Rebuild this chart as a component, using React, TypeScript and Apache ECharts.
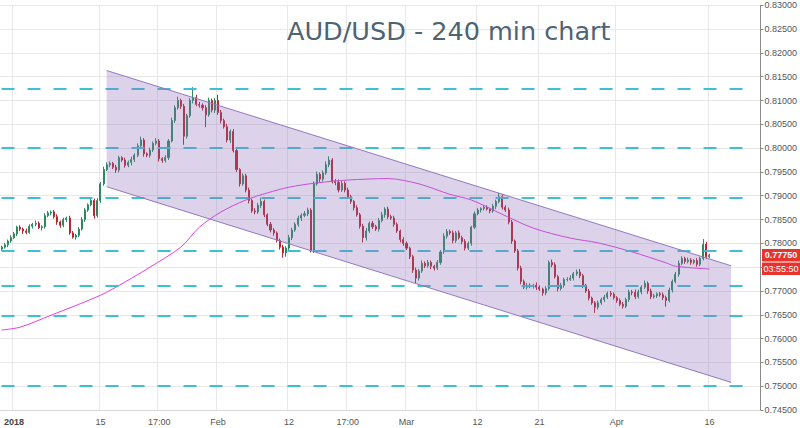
import React, { useEffect, useRef } from "react";
import * as echarts from "echarts";

// ---- data (prices in pips: 7790 = 0.7790) ----
const FIRST_OPEN = 7788;
const CLOSE_PIPS = [
  7792, 7797, 7805, 7812, 7820, 7834, 7830, 7826, 7823, 7836,
  7840, 7842, 7833, 7835, 7858, 7864, 7866, 7856, 7845, 7838,
  7850, 7853, 7822, 7813, 7817, 7830, 7850, 7870, 7881, 7890,
  7858, 7890, 7925, 7955, 7965, 7968, 7960, 7954, 7980, 7975,
  7964, 7970, 7976, 7985, 8005, 8017, 7988, 7985, 7996, 8010,
  8015, 7978, 7974, 7980, 8015, 8058, 8085, 8100, 8088, 8025,
  8068, 8100, 8106, 8092, 8090, 8085, 8070, 8100, 8080, 8100,
  8075, 8058, 8045, 8017, 8035, 7995, 7955, 7925, 7942, 7912,
  7890, 7868, 7866, 7880, 7888, 7860, 7840, 7828, 7822, 7806,
  7792, 7780, 7790, 7812, 7828, 7840, 7853, 7859, 7862, 7870,
  7785, 7925, 7945, 7935, 7948, 7965, 7975, 7930, 7928, 7912,
  7926, 7912, 7898, 7888, 7875, 7860, 7836, 7812, 7826, 7842,
  7835, 7830, 7848, 7860, 7872, 7856, 7853, 7840, 7826, 7808,
  7800, 7790, 7772, 7744, 7727, 7742, 7758, 7753, 7760, 7752,
  7748, 7760, 7782, 7815, 7825, 7822, 7806, 7822, 7812, 7804,
  7790, 7800, 7834, 7862, 7870, 7873, 7876, 7872, 7868, 7878,
  7888, 7898, 7876, 7870, 7845, 7805, 7784, 7748, 7720, 7708,
  7712, 7710, 7712, 7708, 7704, 7696, 7705, 7760, 7755, 7730,
  7705, 7712, 7724, 7724, 7727, 7736, 7740, 7732, 7712, 7700,
  7685, 7675, 7666, 7675, 7682, 7687, 7695, 7693, 7686, 7680,
  7672, 7668, 7682, 7698, 7697, 7688, 7698, 7708, 7716, 7700,
  7688, 7690, 7694, 7692, 7686, 7680, 7702, 7720, 7735, 7758,
  7768, 7762, 7765, 7760, 7764, 7756, 7768, 7798, 7772, 7775,
];
const UPPER_WICK = [
  3, 4, 3, 5, 4, 3, 4, 3, 5, 4,
  3, 6, 4, 3, 5, 4, 3, 4, 5, 3,
  4, 3, 5, 4, 3, 4, 5, 4, 3, 6,
  4, 5, 4, 6, 5, 4, 3, 5, 4, 3,
  5, 4, 6, 4, 5, 7, 4, 3, 5, 4,
  6, 4, 3, 5, 4, 6, 5, 8, 4, 5,
  4, 5, 22, 6, 5, 4, 5, 6, 4, 5,
  12, 5, 4, 6, 4, 5, 4, 3, 5, 4,
  5, 4, 6, 5, 8, 4, 3, 5, 4, 3,
  4, 5, 4, 6, 5, 4, 5, 4, 6, 5,
  4, 5, 6, 4, 5, 7, 8, 4, 5, 6,
  5, 4, 5, 4, 3, 5, 4, 5, 6, 4,
  5, 4, 5, 6, 4, 5, 4, 5, 4, 3,
  5, 4, 3, 4, 5, 4, 6, 4, 5, 4,
  3, 5, 4, 6, 5, 4, 5, 4, 5, 4,
  5, 4, 3, 5, 4, 3, 5, 4, 3, 5,
  4, 8, 5, 4, 5, 4, 3, 4, 5, 4,
  5, 4, 3, 6, 4, 3, 5, 4, 6, 5,
  4, 5, 4, 5, 6, 4, 5, 6, 4, 3,
  4, 3, 4, 5, 4, 5, 4, 5, 4, 3,
  4, 5, 4, 5, 4, 6, 5, 4, 6, 4,
  5, 4, 3, 4, 5, 4, 5, 4, 5, 6,
  5, 4, 5, 4, 3, 5, 4, 11, 5, 3,
];
const LOWER_WICK = [
  4, 3, 5, 4, 3, 5, 4, 6, 4, 3,
  5, 4, 3, 6, 4, 3, 5, 4, 6, 5,
  4, 5, 4, 3, 5, 4, 3, 5, 4, 3,
  6, 4, 5, 4, 3, 5, 4, 6, 5, 4,
  5, 4, 6, 5, 4, 5, 6, 4, 5, 4,
  4, 6, 5, 4, 5, 3, 5, 4, 6, 18,
  5, 4, 6, 4, 5, 6, 26, 4, 5, 6,
  5, 6, 4, 5, 6, 4, 5, 6, 4, 5,
  6, 4, 5, 4, 6, 5, 4, 5, 6, 4,
  5, 10, 8, 4, 5, 4, 5, 6, 4, 5,
  4, 5, 4, 6, 5, 4, 5, 4, 6, 5,
  4, 5, 4, 5, 6, 4, 5, 10, 6, 4,
  5, 4, 5, 4, 6, 5, 4, 5, 4, 6,
  5, 4, 5, 6, 10, 5, 4, 5, 4, 6,
  5, 4, 5, 4, 5, 4, 6, 5, 4, 6,
  5, 4, 5, 4, 3, 5, 4, 3, 5, 4,
  6, 4, 5, 4, 5, 6, 4, 5, 6, 4,
  5, 4, 5, 6, 4, 6, 5, 4, 5, 4,
  6, 4, 5, 4, 3, 5, 4, 5, 6, 4,
  5, 4, 12, 5, 4, 5, 4, 5, 4, 5,
  4, 5, 4, 5, 6, 5, 4, 5, 4, 6,
  5, 4, 5, 4, 5, 13, 4, 5, 4, 5,
  4, 5, 4, 5, 4, 5, 4, 4, 5, 3,
];

const CATEGORY_COUNT = 246;
const X_LABEL_INDEX = [4, 32, 51, 70, 93, 112, 131, 154, 174, 199, 229];
const X_LABELS = ["2018", "15", "17:00", "Feb", "12", "17:00", "Mar", "12", "21", "Apr", "16"];

const Y_MIN = 0.745;
const Y_MAX = 0.83;
const Y_STEP = 0.005;
// tick label hidden behind the price / countdown boxes
const Y_HIDDEN_LABELS = ["0.77500"];

const LEVELS = [0.8125, 0.8, 0.7895, 0.7785, 0.7712, 0.7647, 0.75];
const LEVEL_END_INDEX = 241;

const MA_INDEX = [0, 6, 16, 32, 40, 48, 58, 64, 71, 79, 86, 93, 102, 112, 125, 135, 145, 152, 161, 172, 184, 193, 204, 215, 218, 229];
const MA_VALUES = [
  0.7618, 0.7624, 0.7649, 0.7691, 0.7719, 0.775, 0.7792, 0.7834, 0.7866, 0.7891,
  0.7906, 0.7918, 0.7927, 0.7933, 0.7936, 0.7925, 0.7903, 0.7891, 0.7864, 0.7832,
  0.7811, 0.7801, 0.7782, 0.7759, 0.7752, 0.7746,
];

const CHANNEL_X = [34, 236];
const CHANNEL_UPPER = [0.8163, 0.7753];
const CHANNEL_LOWER = [0.7919, 0.7508];

const LAST_PRICE = 0.7775;
const COUNTDOWN_TEXT = "03:55:50";

const TITLE = "AUD/USD - 240 min chart";

export default function App() {
  const ref = useRef<HTMLDivElement>(null);

  useEffect(() => {
    if (!ref.current) return;
    const chart = echarts.init(ref.current, undefined, { renderer: "svg" });

    const categories = Array.from({ length: CATEGORY_COUNT }, (_, i) => String(i));
    const labelMap = new Map<number, string>();
    X_LABEL_INDEX.forEach((idx, k) => labelMap.set(idx, X_LABELS[k]));

    const candles = CLOSE_PIPS.map((c, i) => {
      const o = i === 0 ? FIRST_OPEN : CLOSE_PIPS[i - 1];
      const hi = Math.max(o, c) + UPPER_WICK[i];
      const lo = Math.min(o, c) - LOWER_WICK[i];
      return [o / 1e4, c / 1e4, lo / 1e4, hi / 1e4];
    });

    const maData = MA_INDEX.map((x, k) => [x, MA_VALUES[k]]);

    const levelLines = LEVELS.map((v) => [
      { coord: [0, v] },
      { coord: [LEVEL_END_INDEX, v] },
    ]);

    const tickFont = "'Liberation Sans', Arial, sans-serif";

    const option: any = {
      animation: false,
      backgroundColor: "#ffffff",
      title: {
        text: TITLE,
        left: 282,
        top: 13,
        textStyle: {
          fontFamily: "'DejaVu Sans', sans-serif",
          fontSize: 25.5,
          fontWeight: "normal",
          color: "#4d6474",
        },
      },
      grid: { left: 0, right: 38, top: 5.3, bottom: 18, containLabel: false },
      xAxis: {
        type: "category",
        data: categories,
        boundaryGap: true,
        axisLine: { show: true, lineStyle: { color: "#d8d8d8" } },
        axisTick: { show: false },
        axisLabel: {
          interval: (i: number) => labelMap.has(i),
          formatter: (_v: string, i: number) => {
            const t = labelMap.get(i) || "";
            return t === "2018" ? "{b|2018}" : t;
          },
          color: "#555555",
          fontFamily: tickFont,
          fontSize: 9,
          margin: 7,
          rich: { b: { fontWeight: "bold", fontSize: 9, color: "#444444", fontFamily: tickFont } },
        },
        splitLine: {
          show: true,
          interval: (i: number) => labelMap.has(i),
          lineStyle: { color: "#e8e8e8", width: 1 },
        },
      },
      yAxis: {
        type: "value",
        position: "right",
        min: Y_MIN,
        max: Y_MAX,
        interval: Y_STEP,
        axisLine: { show: true, lineStyle: { color: "#8a8a8a" } },
        axisTick: { show: true, length: 3, lineStyle: { color: "#8a8a8a" } },
        axisLabel: {
          formatter: (v: number) => {
            const s = v.toFixed(5);
            return Y_HIDDEN_LABELS.includes(s) ? "" : s;
          },
          color: "#555555",
          fontFamily: tickFont,
          fontSize: 9,
          margin: 4,
        },
        splitLine: { show: true, lineStyle: { color: "#e8e8e8", width: 1 } },
      },
      series: [
        {
          type: "line",
          name: "levels",
          data: [],
          symbol: "none",
          z: 2,
          markLine: {
            silent: true,
            symbol: ["none", "none"],
            label: { show: false },
            lineStyle: { color: "#3fc0d2", width: 2, type: [13, 13] },
            data: levelLines,
          },
        },
        {
          type: "candlestick",
          name: "AUDUSD",
          data: candles,
          barMaxWidth: 2,
          z: 3,
          itemStyle: {
            color: "#2a8a5e",
            color0: "#b8262d",
            borderColor: "#2a8a5e",
            borderColor0: "#b8262d",
            borderWidth: 1,
          },
        },
        {
          type: "line",
          name: "MA",
          data: maData,
          symbol: "none",
          smooth: 0.3,
          z: 4,
          lineStyle: { color: "#e23fe0", width: 1 },
        },
        {
          type: "custom",
          name: "channel",
          z: 6,
          silent: true,
          data: [[CHANNEL_X[0], CHANNEL_UPPER[0]]],
          renderItem: (_params: any, api: any) => {
            const a = api.coord([CHANNEL_X[0], CHANNEL_UPPER[0]]);
            const b = api.coord([CHANNEL_X[1], CHANNEL_UPPER[1]]);
            const c = api.coord([CHANNEL_X[1], CHANNEL_LOWER[1]]);
            const d = api.coord([CHANNEL_X[0], CHANNEL_LOWER[0]]);
            return {
              type: "group",
              children: [
                {
                  type: "polygon",
                  shape: { points: [a, b, c, d] },
                  style: { fill: "rgba(138,108,185,0.3)", stroke: "none" },
                },
                {
                  type: "line",
                  shape: { x1: a[0], y1: a[1], x2: b[0], y2: b[1] },
                  style: { stroke: "#9478bd", lineWidth: 1 },
                },
                {
                  type: "line",
                  shape: { x1: d[0], y1: d[1], x2: c[0], y2: c[1] },
                  style: { stroke: "#9478bd", lineWidth: 1 },
                },
              ],
            };
          },
        },
      ],
    };

    chart.setOption(option);

    // price / countdown boxes placed on the y axis at the last price
    const py = chart.convertToPixel({ yAxisIndex: 0 }, LAST_PRICE) as number;
    const boxX = 762;
    const boxW = 38;
    const boxH = 12.5;
    chart.setOption({
      graphic: [
        {
          type: "group",
          z: 100,
          children: [
            {
              type: "rect",
              shape: { x: boxX, y: py - boxH / 2, width: boxW, height: boxH },
              style: { fill: "#e8332c" },
            },
            {
              type: "text",
              x: boxX + boxW / 2,
              y: py,
              style: {
                text: LAST_PRICE.toFixed(5),
                fill: "#ffffff",
                font: `bold 9px ${tickFont}`,
                align: "center",
                verticalAlign: "middle",
              },
            },
            {
              type: "rect",
              shape: { x: boxX, y: py + boxH / 2 + 1, width: boxW, height: boxH },
              style: { fill: "#e8332c" },
            },
            {
              type: "text",
              x: boxX + boxW / 2,
              y: py + boxH + 1,
              style: {
                text: COUNTDOWN_TEXT,
                fill: "#ffffff",
                font: `9px ${tickFont}`,
                align: "center",
                verticalAlign: "middle",
              },
            },
          ],
        },
      ],
    });

    return () => chart.dispose();
  }, []);

  return (
    <div
      ref={ref}
      style={{ position: "fixed", left: 0, top: 0, width: 800, height: 428, background: "#fff" }}
    />
  );
}
